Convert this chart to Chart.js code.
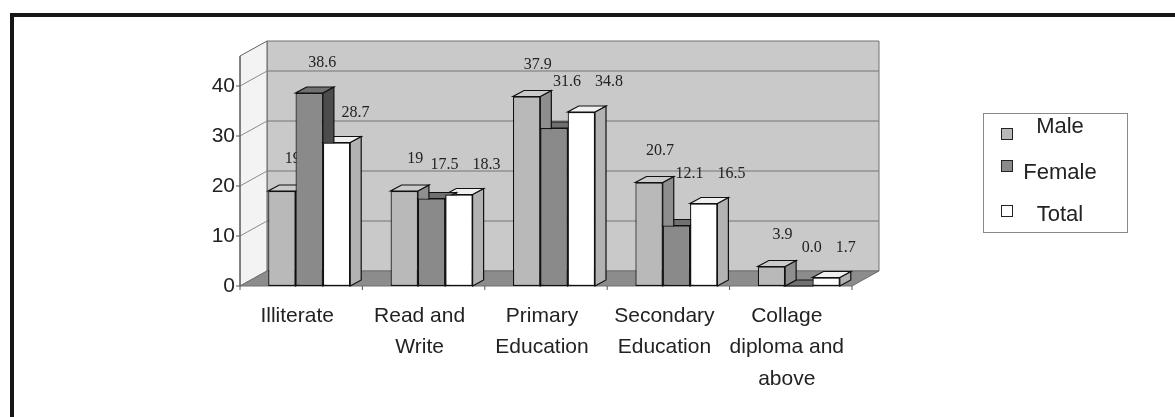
<!DOCTYPE html>
<html>
<head>
<meta charset="utf-8">
<script src="https://cdn.jsdelivr.net/npm/chart.js@4.4.1/dist/chart.umd.min.js"></script>
<style>
  body { margin: 0; background: #fff; }
  #frame { position: absolute; left: 10px; top: 13px; width: 1300px; height: 500px;
           border-top: 4px solid #161616; border-left: 4px solid #161616; }
  canvas { position: absolute; left: 0; top: 0; }
</style>
</head>
<body>
<div id="frame"></div>
<canvas id="eduChart" width="1175" height="417"></canvas>
<script>
var Categories = [['Illiterate'], ['Read and', 'Write'], ['Primary', 'Education'], ['Secondary', 'Education'], ['Collage', 'diploma and', 'above']];
var SeriesNames = ['Male', 'Female', 'Total'];
var MaleValues = [19, 19, 37.9, 20.7, 3.9];
var FemaleValues = [38.6, 17.5, 31.6, 12.1, 0.0];
var TotalValues = [28.7, 18.3, 34.8, 16.5, 1.7];
var YTicks = [0, 10, 20, 30, 40];

var SANS = '"Liberation Sans", Arial, sans-serif';
var SERIF = '"Liberation Serif", "Times New Roman", serif';

// depth of the walls and of the bars
var DX = 27, DY = 15;
var BDX = 11, BDY = 6;
// walls start a bit left of the bar groups
var SHIFT = 8;

var faceColors = [
    { top: '#cbcbcb', side: '#8e8e8e' },
    { top: '#707070', side: '#4c4c4c' },
    { top: '#f0f0f0', side: '#b2b2b2' }
];

function poly(ctx, pts, fill, stroke, lw) {
    ctx.beginPath();
    ctx.moveTo(pts[0][0], pts[0][1]);
    for (var i = 1; i < pts.length; i++) ctx.lineTo(pts[i][0], pts[i][1]);
    ctx.closePath();
    if (fill) { ctx.fillStyle = fill; ctx.fill(); }
    if (stroke) { ctx.strokeStyle = stroke; ctx.lineWidth = lw || 1; ctx.stroke(); }
}

function fmt(v) {
    return v === 0 ? '0.0' : String(v);
}

// female and total labels share a row when the bars are close in height
function sharedRow(i) {
    return Math.abs(FemaleValues[i] - TotalValues[i]) < 5;
}

function labelLevel(i, d) {
    if (d === 0) return MaleValues[i];
    if (sharedRow(i)) return Math.max(FemaleValues[i], TotalValues[i]);
    return d === 1 ? FemaleValues[i] : TotalValues[i];
}

var walls = {
    id: 'walls',
    beforeDraw(chart) {
        var ctx = chart.ctx, a = chart.chartArea, y = chart.scales.y;
        var wl = a.left - SHIFT, wr = a.right - SHIFT;
        var yb = y.getPixelForValue(0), yt = a.top;
        ctx.save();
        // back wall
        poly(ctx, [[wl + DX, yt - DY], [wr + DX, yt - DY], [wr + DX, yb - DY], [wl + DX, yb - DY]], '#c9c9c9', '#707070', 1);
        // side wall
        poly(ctx, [[wl, yb], [wl, yt], [wl + DX, yt - DY], [wl + DX, yb - DY]], '#f3f3f3', '#606060', 1);
        // floor
        poly(ctx, [[wl, yb], [wr, yb], [wr + DX, yb - DY], [wl + DX, yb - DY]], '#8c8c8c', '#707070', 1);
        // gridlines
        ctx.lineWidth = 1;
        YTicks.forEach(function (v) {
            if (v === 0) return;
            var p = y.getPixelForValue(v);
            ctx.strokeStyle = '#747474';
            ctx.beginPath();
            ctx.moveTo(wl + DX, p - DY);
            ctx.lineTo(wr + DX, p - DY);
            ctx.stroke();
            ctx.strokeStyle = '#8a8a8a';
            ctx.beginPath();
            ctx.moveTo(wl, p);
            ctx.lineTo(wl + DX, p - DY);
            ctx.stroke();
        });
        // value axis with ticks
        ctx.strokeStyle = '#555';
        ctx.beginPath();
        ctx.moveTo(wl, yb);
        ctx.lineTo(wl, yt);
        YTicks.forEach(function (v) {
            var p = y.getPixelForValue(v);
            ctx.moveTo(wl - 4, p);
            ctx.lineTo(wl, p);
        });
        // category ticks
        var step = (a.right - a.left) / Categories.length;
        for (var k = 0; k <= Categories.length; k++) {
            ctx.moveTo(wl + k * step, yb);
            ctx.lineTo(wl + k * step, yb + 4);
        }
        ctx.stroke();
        ctx.restore();
    }
};

var barFaces = {
    id: 'barFaces',
    beforeDatasetsDraw(chart) {
        var ctx = chart.ctx, y = chart.scales.y;
        ctx.save();
        for (var i = 0; i < Categories.length; i++) {
            for (var d = chart.data.datasets.length - 1; d >= 0; d--) {
                var bar = chart.getDatasetMeta(d).data[i];
                var l = bar.x - bar.width / 2, r = bar.x + bar.width / 2;
                var t = bar.y, b = bar.base;
                poly(ctx, [[r, t], [r + BDX, t - BDY], [r + BDX, b - BDY], [r, b]], faceColors[d].side, '#111', 1.2);
                poly(ctx, [[l, t], [r, t], [r + BDX, t - BDY], [l + BDX, t - BDY]], faceColors[d].top, '#111', 1.2);
            }
        }
        // value labels sit in the scene, so front faces can cover them
        ctx.font = '16px ' + SERIF;
        ctx.fillStyle = '#222';
        ctx.textAlign = 'center';
        ctx.textBaseline = 'middle';
        var ds = chart.data.datasets;
        for (var i = 0; i < Categories.length; i++) {
            var bars = [0, 1, 2].map(function (d) { return chart.getDatasetMeta(d).data[i]; });
            var texts = ds.map(function (s) { return fmt(s.data[i]); });
            var xs = [bars[0].x + BDX, bars[1].x + BDX + 2, bars[2].x + BDX + 8];
            if (sharedRow(i)) {
                // keep the two labels of one row apart
                var fRight = xs[1] + ctx.measureText(texts[1]).width / 2;
                xs[2] = Math.max(xs[2], fRight + 14 + ctx.measureText(texts[2]).width / 2);
            }
            for (var d = 0; d < 3; d++) {
                var off = d === 0 ? 32 : 30;
                ctx.fillText(texts[d], xs[d], y.getPixelForValue(labelLevel(i, d)) - off);
            }
        }
        ctx.restore();
    }
};

var legendBox = {
    id: 'legendBox',
    afterDraw(chart) {
        var ctx = chart.ctx;
        var markY = [134, 166, 211], textY = [127, 173, 215];
        ctx.save();
        ctx.strokeStyle = '#8a8a8a';
        ctx.lineWidth = 1;
        ctx.strokeRect(983.5, 113.5, 144, 119);
        ctx.font = '22px ' + SANS;
        ctx.textAlign = 'center';
        ctx.textBaseline = 'middle';
        chart.data.datasets.forEach(function (ds, k) {
            ctx.fillStyle = ds.backgroundColor;
            ctx.fillRect(1001, markY[k] - 5, 11, 11);
            ctx.strokeStyle = '#222';
            ctx.strokeRect(1001.5, markY[k] - 5.5, 11, 11);
            ctx.fillStyle = '#222';
            ctx.fillText(ds.label, 1060, textY[k]);
        });
        ctx.restore();
    }
};

var ctx = document.getElementById('eduChart').getContext('2d');
var eduChart = new Chart(ctx, {
    type: 'bar',
    data: {
        labels: Categories,
        datasets: [
            { label: SeriesNames[0], data: MaleValues, backgroundColor: '#b9b9b9' },
            { label: SeriesNames[1], data: FemaleValues, backgroundColor: '#8a8a8a' },
            { label: SeriesNames[2], data: TotalValues, backgroundColor: '#ffffff' }
        ]
    },
    options: {
        responsive: false,
        animation: false,
        layout: { padding: { left: 200, right: 315, top: 56, bottom: 11 } },
        datasets: {
            bar: {
                categoryPercentage: 0.67,
                barPercentage: 1,
                borderColor: '#111',
                borderWidth: 1.2,
                borderSkipped: false
            }
        },
        plugins: {
            legend: { display: false },
            tooltip: { enabled: false }
        },
        scales: {
            x: {
                grid: { display: false, drawTicks: false },
                border: { display: false },
                ticks: {
                    font: { family: SANS, size: 21, lineHeight: 1.5 },
                    color: '#222',
                    padding: 14,
                    labelOffset: -12,
                    maxRotation: 0,
                    autoSkip: false
                },
                afterFit: function (s) { s.height = 120; }
            },
            y: {
                min: 0,
                max: 46,
                grid: { display: false, drawTicks: false },
                border: { display: false },
                ticks: {
                    stepSize: 10,
                    padding: 13,
                    font: { family: SANS, size: 21 },
                    color: '#222'
                },
                afterBuildTicks: function (s) {
                    s.ticks = YTicks.map(function (v) { return { value: v }; });
                },
                afterFit: function (s) { s.width = 48; }
            }
        }
    },
    plugins: [walls, barFaces, legendBox]
});
</script>
</body>
</html>
